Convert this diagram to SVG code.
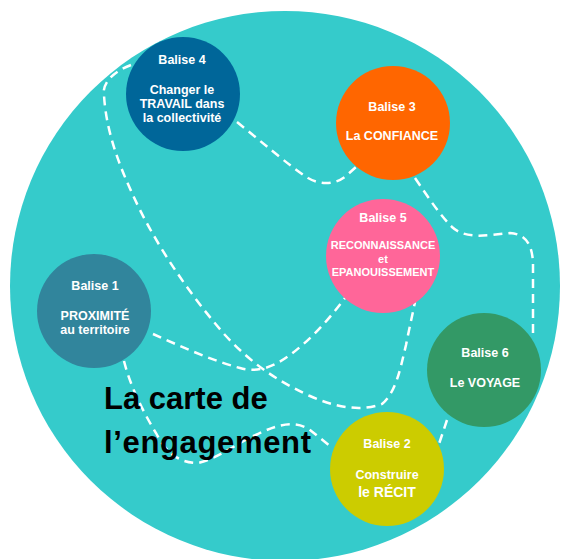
<svg xmlns="http://www.w3.org/2000/svg" width="563" height="559" viewBox="0 0 563 559">
<style>
.lbl{font-family:"Liberation Sans",Arial,sans-serif;font-weight:bold;fill:#fff;text-anchor:middle;font-size:12.5px}
.sm{font-size:11px}
.big{font-size:14px}
.dash{fill:none;stroke:#fff;stroke-width:2.5;stroke-dasharray:9 6}
.title{font-family:"Liberation Sans",Arial,sans-serif;font-weight:bold;fill:#000;font-size:31px}
</style>
<rect width="563" height="559" fill="#fff"/>
<circle id="map" cx="285" cy="286" r="275" fill="#35CBCB"/>
<g id="connectors">
<path class="dash" d="M131,65 C112,72 102,84 104,95 C106,130 118,165 140,210 C160,250 190,295 225,335 C250,362 275,380 310,396 C335,407 360,412 382,404 C396,392 400,370 406,345 C410,325 413,312 415,302"/>
<path class="dash" d="M237,122 C262,142 288,165 308,178 C322,186 336,184 346,176 L356,167"/>
<path class="dash" d="M415,178 C430,200 440,215 452,227 C466,240 488,235 510,233 C528,234 532,248 533,262 L533,334"/>
<path class="dash" d="M153,334 C180,346 210,360 240,368 C262,374 280,364 300,347 C318,332 332,315 345,298"/>
<path class="dash" d="M124,361 C130,385 142,410 156,433 C166,452 178,463 198,463 C220,458 238,442 258,434 C278,424 296,420 310,430 L330,446"/>
<path class="dash" d="M447,420 L437,450"/>
</g>
<g id="balise4">
<circle cx="183" cy="94" r="57" fill="#006699"/>
<text class="lbl" x="182" y="64">Balise 4</text>
<text class="lbl" x="182" y="94">Changer le</text>
<text class="lbl" x="182" y="108">TRAVAIL dans</text>
<text class="lbl" x="182" y="122">la collectivité</text>
</g>
<g id="balise3">
<circle cx="393" cy="123" r="57" fill="#FF6600"/>
<text class="lbl" x="392" y="111">Balise 3</text>
<text class="lbl" x="392" y="140">La CONFIANCE</text>
</g>
<g id="balise5">
<circle cx="383" cy="256" r="57" fill="#FF6699"/>
<text class="lbl" x="383" y="222">Balise 5</text>
<text class="lbl sm" x="383" y="249">RECONNAISSANCE</text>
<text class="lbl sm" x="383" y="263">et</text>
<text class="lbl sm" x="383" y="276">EPANOUISSEMENT</text>
</g>
<g id="balise1">
<circle cx="94" cy="311" r="57" fill="#31859C"/>
<text class="lbl" x="95" y="290">Balise 1</text>
<text class="lbl" x="95" y="320">PROXIMITÉ</text>
<text class="lbl" x="95" y="334">au territoire</text>
</g>
<g id="balise6">
<circle cx="484" cy="370" r="57" fill="#339966"/>
<text class="lbl" x="485" y="357">Balise 6</text>
<text class="lbl" x="485" y="387">Le VOYAGE</text>
</g>
<g id="balise2">
<circle cx="387" cy="469" r="57" fill="#CCCC00"/>
<text class="lbl" x="387" y="448">Balise 2</text>
<text class="lbl" x="387" y="479">Construire</text>
<text class="lbl big" x="387" y="497">le RÉCIT</text>
</g>
<g id="title">
<text class="title" x="104" y="409">La carte de</text>
<text class="title" x="104" y="453" textLength="207">l’engagement</text>
</g>
</svg>
